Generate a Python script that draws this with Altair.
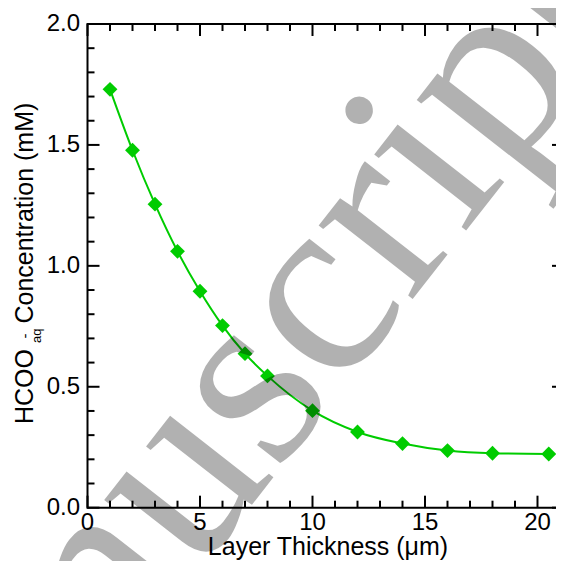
import altair as alt
import pandas as pd

# ---- data ----
thickness = [1, 2, 3, 4, 5, 6, 7, 8, 10, 12, 14, 16, 18, 20.5]
concentration = [1.730, 1.478, 1.255, 1.060, 0.895, 0.753, 0.637, 0.545,
                 0.401, 0.313, 0.265, 0.236, 0.225, 0.222]

x_major = [0, 5, 10, 15, 20]
x_major_labels = ["0", "5", "10", "15", "20"]
x_minor = [1, 2, 3, 4, 6, 7, 8, 9, 11, 12, 13, 14, 16, 17, 18, 19]
y_major = [0.0, 0.5, 1.0, 1.5, 2.0]
y_major_labels = ["0.0", "0.5", "1.0", "1.5", "2.0"]
y_minor = [0.1, 0.2, 0.3, 0.4, 0.6, 0.7, 0.8, 0.9,
           1.1, 1.2, 1.3, 1.4, 1.6, 1.7, 1.8, 1.9]

x_title = "Layer Thickness (μm)"
y_title_main = "HCOO"
y_title_sup = "-"
y_title_sub = "aq"
y_title_rest = "Concentration (mM)"
watermark = "Manuscript"

# ---- layout ----
W = 468.5
H = 483.7
XMAX = W / 22.5
GREEN = "#00cc00"
FONT = "Liberation Sans"
FS_TICK = 24
FS_TITLE = 25
MAJ = 12
MIN = 7

xs = alt.Scale(domain=[0, XMAX], nice=False, zero=False)
ys = alt.Scale(domain=[0, 2], nice=False, zero=False)

df = pd.DataFrame({"x": thickness, "y": concentration})
base = alt.Chart(df)

line = base.mark_line(color=GREEN, strokeWidth=2, interpolate="monotone").encode(
    x=alt.X("x:Q", scale=xs, axis=None),
    y=alt.Y("y:Q", scale=ys, axis=None),
)

points = base.mark_point(shape="diamond", filled=True, size=220, color=GREEN, opacity=1).encode(
    x=alt.X("x:Q", scale=xs, axis=None),
    y=alt.Y("y:Q", scale=ys, axis=None),
)

one = pd.DataFrame({"k": [0]})

frame_bottom = alt.Chart(one).mark_rule(color="black", strokeWidth=2).encode(
    x=alt.value(0), x2=alt.value(W), y=alt.value(H))
frame_top = alt.Chart(one).mark_rule(color="black", strokeWidth=2).encode(
    x=alt.value(0), x2=alt.value(W), y=alt.value(0))
frame_left = alt.Chart(one).mark_rule(color="black", strokeWidth=2).encode(
    x=alt.value(0), y=alt.value(-1), y2=alt.value(H + 1))

dxM = pd.DataFrame({"v": x_major, "lab": x_major_labels})
dxm = pd.DataFrame({"v": x_minor})
dyM = pd.DataFrame({"v": y_major, "lab": y_major_labels})
dym = pd.DataFrame({"v": y_minor})


def xticks(d, length, top):
    y0, y1 = (0, length) if top else (H, H - length)
    return alt.Chart(d).mark_rule(color="black", strokeWidth=2).encode(
        x=alt.X("v:Q", scale=xs, axis=None), y=alt.value(y0), y2=alt.value(y1))


def yticks(d, length, right):
    x0, x1 = (W, W - length) if right else (0, length)
    return alt.Chart(d).mark_rule(color="black", strokeWidth=2).encode(
        y=alt.Y("v:Q", scale=ys, axis=None), x=alt.value(x0), x2=alt.value(x1))


ticks = [
    xticks(dxM, MAJ, False), xticks(dxm, MIN, False),
    xticks(dxM, MAJ, True), xticks(dxm, MIN, True),
    yticks(dyM, MAJ, False), yticks(dym, MIN, False),
    yticks(dyM, 4, True),
]

xlabels = alt.Chart(dxM).mark_text(font=FONT, fontSize=FS_TICK, color="black",
                                   align="center", baseline="alphabetic").encode(
    x=alt.X("v:Q", scale=xs, axis=None), y=alt.value(H + 22.3), text="lab:N")
ylabels = alt.Chart(dyM).mark_text(font=FONT, fontSize=FS_TICK, color="black",
                                   align="right", baseline="middle").encode(
    y=alt.Y("v:Q", scale=ys, axis=None), x=alt.value(-7.5), text="lab:N")

xt = alt.Chart(one).mark_text(text=x_title, font=FONT, fontSize=FS_TITLE, color="black",
                              align="center", baseline="alphabetic").encode(
    x=alt.value(240.5), y=alt.value(531))

yt1 = alt.Chart(one).mark_text(text=y_title_main, font=FONT, fontSize=FS_TITLE, color="black",
                               align="left", baseline="alphabetic", angle=270).encode(
    x=alt.value(-54.2), y=alt.value(400))
yt2 = alt.Chart(one).mark_text(text=y_title_sup, font=FONT, fontSize=15, color="black",
                               align="center", baseline="alphabetic", angle=270).encode(
    x=alt.value(-57.9), y=alt.value(312))
yt3 = alt.Chart(one).mark_text(text=y_title_sub, font=FONT, fontSize=13, color="black",
                               align="left", baseline="alphabetic", angle=270).encode(
    x=alt.value(-47), y=alt.value(319))
yt4 = alt.Chart(one).mark_text(text=y_title_rest, font=FONT, fontSize=FS_TITLE, color="black",
                               align="left", baseline="alphabetic", angle=270).encode(
    x=alt.value(-54.2), y=alt.value(299.5))

wm = alt.Chart(one).mark_text(text=watermark, font="Liberation Serif", fontSize=260,
                              color="black", opacity=0.3, align="left",
                              baseline="alphabetic", angle=308).encode(
    x=alt.value(-184.8), y=alt.value(927.8))

chart = alt.layer(
    line, points, frame_bottom, frame_top, frame_left, *ticks,
    xlabels, ylabels, xt, yt1, yt2, yt3, yt4, wm
).properties(
    width=W, height=H,
    autosize=alt.AutoSizeParams(type="none"),
    padding={"left": 79.5, "top": 16, "right": 0, "bottom": 53},
    background="white",
).configure_view(stroke=None)

chart.save("out.html", embed_options={"renderer": "svg", "actions": False})
